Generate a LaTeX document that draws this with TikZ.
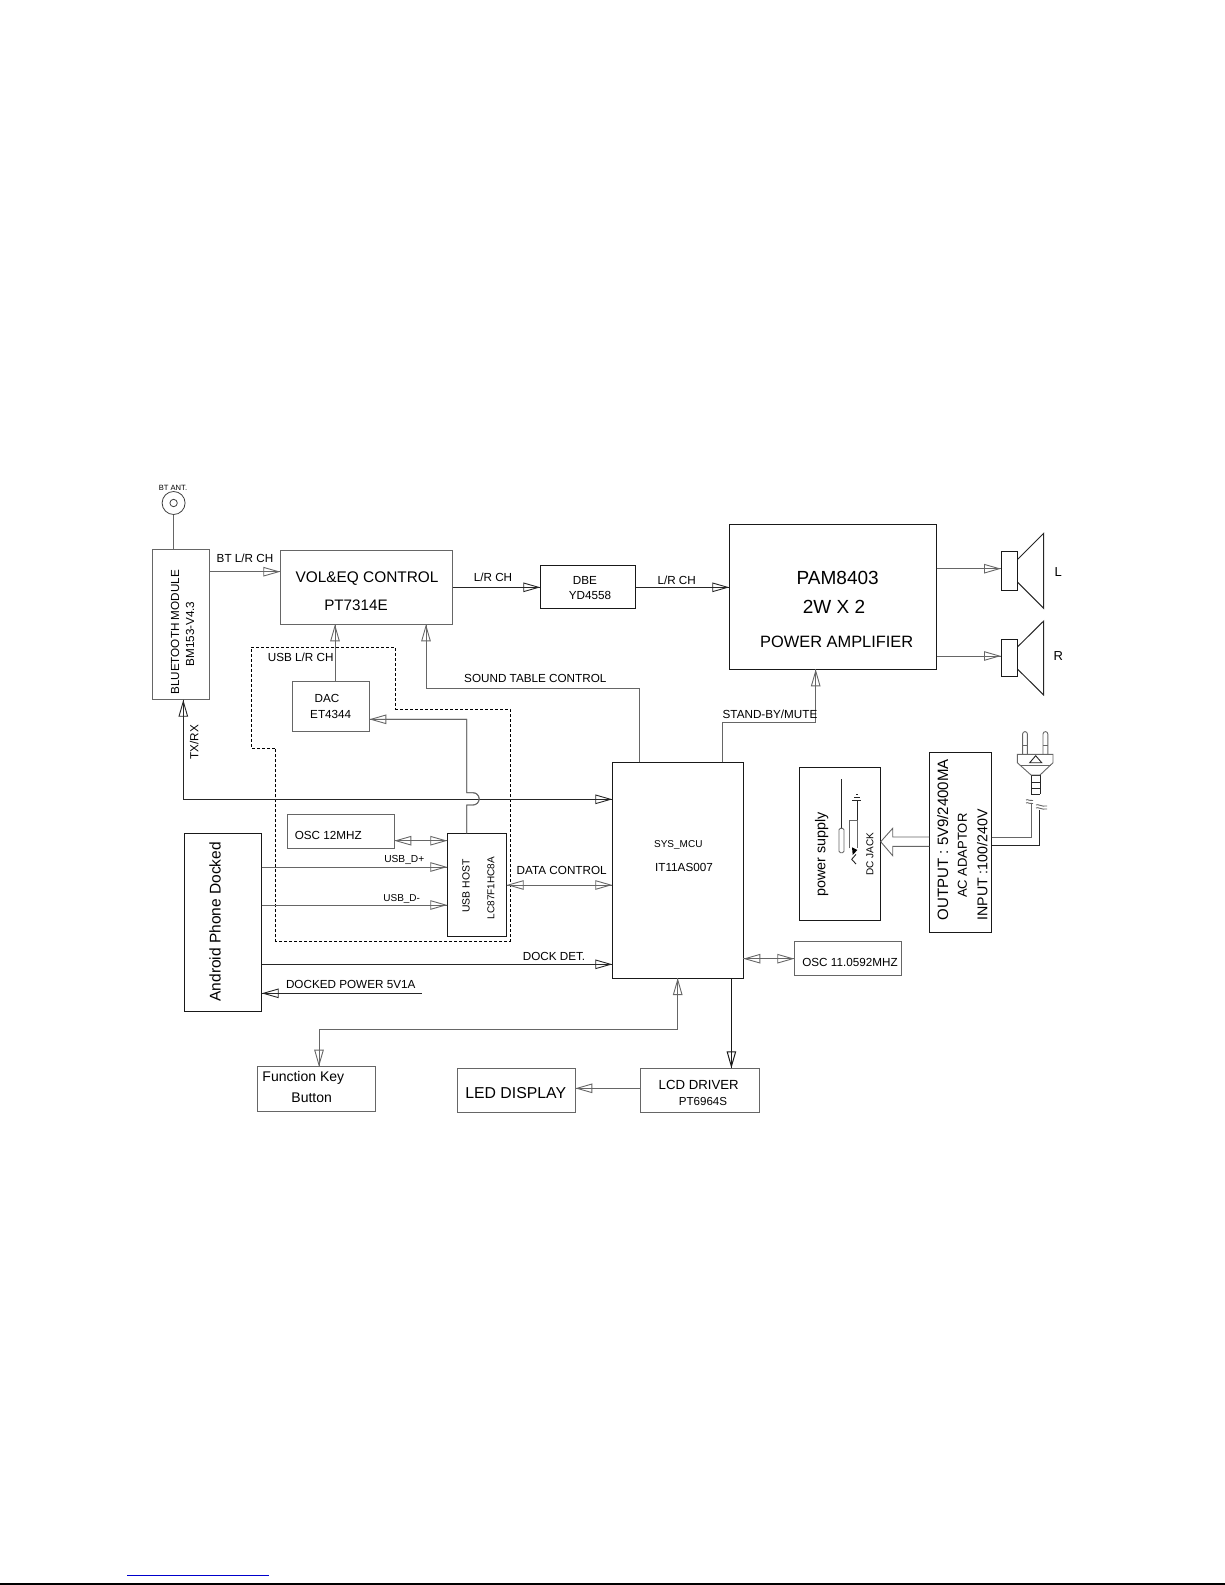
\documentclass[tikz,border=0pt]{standalone}
\usepackage{fontspec}
\setmainfont{Liberation Sans}
\usetikzlibrary{arrows.meta,calc}
\newcommand{\fsz}[1]{\fontsize{#1}{#1}\selectfont}
\tikzset{
    box/.style={draw=black!60, line width=1pt, inner sep=0pt, outer sep=0pt},
    darkbox/.style={box, draw=black!90},
    txt/.style={inner sep=0pt, text=black, font=\fsz{11.7}},
    vtxt/.style={txt, rotate=90},
    wire/.style={draw=black!60, line width=0.9pt},
    darkwire/.style={draw=black!85, line width=0.9pt},
    tip/.style={-{Triangle[open,length=17pt,width=9.5pt]}, postaction={draw,-}},
    dtip/.style={{Triangle[open,length=17pt,width=9.5pt]}-{Triangle[open,length=17pt,width=9.5pt]}, postaction={draw,-}},
}
\begin{document}
\begin{tikzpicture}[x=1pt,y=-1pt]
    \useasboundingbox (0,0) rectangle (1225,1585);

    % the blocks
    \node[box, minimum width=56.6pt, minimum height=150.7pt] (bt) at (181,624.35) {};
    \node[box, minimum width=172.4pt, minimum height=74pt] (vol) at (366.5,587.3) {};
    \node[box, minimum width=77pt, minimum height=50.3pt] (dac) at (330.8,706.15) {};
    \node[darkbox, minimum width=95.4pt, minimum height=43pt] (dbe) at (588,586.8) {};
    \node[darkbox, minimum width=207.4pt, minimum height=145pt] (pam) at (833,596.8) {};
    \node[darkbox, minimum width=131pt, minimum height=215.7pt] (mcu) at (677.8,870.15) {};
    \node[darkbox, minimum width=81.4pt, minimum height=153pt] (psu) at (840,843.8) {};
    \node[darkbox, minimum width=62.4pt, minimum height=180pt] (adp) at (960.5,842.3) {};
    \node[box, minimum width=107.4pt, minimum height=34pt] (oscb) at (848,958.7) {};
    \node[box, minimum width=107.3pt, minimum height=34.4pt] (osca) at (340.65,831.5) {};
    \node[darkbox, minimum width=59.4pt, minimum height=103pt] (host) at (477,884.8) {};
    \node[darkbox, minimum width=77.4pt, minimum height=177.7pt] (phone) at (223,922.15) {};
    \node[box, minimum width=118.4pt, minimum height=44.3pt] (key) at (316.5,1088.85) {};
    \node[box, minimum width=118.3pt, minimum height=44pt] (led) at (516.15,1090.3) {};
    \node[box, minimum width=118.5pt, minimum height=44pt] (lcd) at (699.75,1090.3) {};

    % the antenna
    \node[circle, draw=black!75, line width=0.8pt, inner sep=0pt, outer sep=0pt, minimum size=23pt] (ant) at (173.6,503) {};
    \node[circle, draw=black!75, line width=0.8pt, inner sep=0pt, minimum size=7.4pt] (anti) at (ant.center) {};
    \draw[wire] (ant.south) -- (ant.south |- bt.north);

    % the speakers
    \node[darkbox, minimum width=16.7pt, minimum height=39pt] (spkl) at (1009.35,571.2) {};
    \node[darkbox, minimum width=16.7pt, minimum height=37.4pt] (spkr) at (1009.35,658) {};
    \draw[darkwire, line width=1pt] (spkl.east |- 0,559.3) -- (1043.7,533.3) -- (1043.7,608.3) -- (spkl.east |- 0,582.3);
    \draw[darkwire, line width=1pt] (spkr.east |- 0,646.7) -- (1043.7,621) -- (1043.7,695) -- (spkr.east |- 0,669.3);

    % the dashed usb area
    \draw[black, line width=0.9pt, dash pattern=on 3pt off 2pt] (251.3,647.7) -- (395.7,647.7) -- (395.7,709) -- (510,709)
        -- (510,941) -- (275.7,941) -- (275.7,748) -- (251.3,748) -- cycle;

    % draw the arrows
    \draw[wire, tip] (bt.east |- 0,571.7) -- (vol.west |- 0,571.7);
    \draw[darkwire, tip] (vol.east |- 0,587.3) -- (dbe.west |- 0,587.3);
    \draw[darkwire, tip] (dbe.east |- 0,587.3) -- (pam.west |- 0,587.3);
    \draw[wire, tip] (pam.east |- 0,568.7) -- (spkl.west |- 0,568.7);
    \draw[wire, tip] (pam.east |- 0,656) -- (spkr.west |- 0,656);
    \draw[wire, tip] (dac.north -| 335,0) -- (vol.south -| 335,0);
    \draw[wire, tip] (639.7,0 |- mcu.north) -- (639.7,688) -- (426,688) -- (426,0 |- vol.south);
    \draw[wire, tip] (722.3,0 |- mcu.north) -- (722.3,722.3) -- (815.7,722.3) -- (815.7,0 |- pam.south);
    \draw[darkwire, dtip] (bt.south -| 183.3,0) -- (183.3,799.3) -- (mcu.west |- 0,799.3);
    \draw[wire, tip] (466.7,0 |- host.north) -- (466.7,805) -- (473,805) arc[start angle=-90, end angle=90, radius=6.15pt]
        -- (466.7,792.7) -- (466.7,719.3) -- (dac.east |- 0,719.3);
    \draw[wire, dtip] (osca.east |- 0,840.7) -- (host.west |- 0,840.7);
    \draw[wire, tip] (phone.east |- 0,867) -- (host.west |- 0,867);
    \draw[wire, tip] (phone.east |- 0,905) -- (host.west |- 0,905);
    \draw[wire, dtip] (host.east |- 0,885) -- (mcu.west |- 0,885);
    \draw[darkwire, tip] (phone.east |- 0,964.3) -- (mcu.west |- 0,964.3);
    \coordinate (pwrend) at (421.7,993.3);
    \draw[darkwire, tip] (pwrend) -- (phone.east |- pwrend);
    \draw[wire, dtip] (mcu.east |- oscb) -- (oscb.west);
    \draw[wire, dtip] (677.7,0 |- mcu.south) -- (677.7,1029.3) -- (319,1029.3) -- (319,0 |- key.north);
    \draw[black!90, line width=1pt, tip] (731.4,0 |- mcu.south) -- (731.4,0 |- lcd.north);
    \draw[wire, tip] (lcd.west |- 0,1088.3) -- (led.east |- 0,1088.3);

    % the hollow arrow into the power supply
    \draw[wire] (adp.west |- 0,837) -- (892.7,837) -- (892.7,828.3) -- (psu.east |- 0,841.7)
        -- (892.7,855.7) -- (892.7,846.3) -- (adp.west |- 0,846.3);

    % the dc jack
    \draw[darkwire] (841.3,779.3) -- (841.3,828.3);
    \draw[wire, rounded corners=1.5pt] (839,828.3) rectangle (844,852.7);
    \draw[wire] (849.7,848.3) -- (849.7,820) -- (857,820);
    \draw[wire] (857,820) -- (857,848.3);
    \draw[darkwire] (857,820) -- (857,800);
    \draw[darkwire] (852.3,800) -- (861.3,800) (854,797.3) -- (860,797.3) (856,794.3) -- (858,794.3);
    \fill[black] (852,847.3) -- (857.3,850) -- (852.7,855) -- cycle;
    \draw[darkwire] (856,864) -- (851.7,859.3) -- (856,854.3);

    % the mains plug
    \draw[wire] (adp.east |- 0,837.7) -- (1031,837.7) -- (1031,803.3);
    \draw[darkwire] (adp.east |- 0,845.7) -- (1039.7,845.7) -- (1039.7,810);
    \draw[wire] (1026,800) .. controls (1028,798.5) and (1030,802) .. (1033,800.5);
    \draw[wire] (1026,803) .. controls (1028,801.5) and (1030,805) .. (1033,803.5);
    \draw[wire] (1036,805) .. controls (1038,803.5) and (1041,807) .. (1047,806);
    \draw[wire] (1036,808) .. controls (1038,806.5) and (1041,810) .. (1047,809);
    \draw[darkwire] (1031,775) -- (1031,794) (1040,775) -- (1040,794);
    \draw[darkwire] (1031,775) -- (1040,775) (1031,782.3) -- (1040,782.3) (1031,788.3) -- (1040,788.3) (1031,794) -- (1040,794);
    \draw[wire] (1022.6,754.3) -- (1022.6,734) arc[start angle=180, end angle=0, radius=2.4pt] -- (1027.4,754.3);
    \draw[wire] (1043,754.3) -- (1043,734) arc[start angle=180, end angle=0, radius=2.4pt] -- (1047.8,754.3);
    \draw[wire] (1022.6,745.7) -- (1027.4,745.7) (1043,745.7) -- (1047.8,745.7);
    \draw[wire] (1017.3,754.3) -- (1053,754.3) -- (1053,762.7) -- (1040,775) -- (1031,775) -- (1017.3,762.7) -- cycle;
    \draw[wire] (1019.5,765) -- (1050.8,765);
    \draw[darkwire] (1029.7,762.7) -- (1035.7,755.7) -- (1041.7,762.7) -- cycle;

    % the texts
    \node[txt, font=\fsz{7.6}] (anttxt) at (173,488) {BT ANT.};
    \node[vtxt] (bttxta) at (175,632.3) {BLUETOOTH MODULE};
    \node[vtxt] (bttxtb) at (190,634) {BM153-V4.3};
    \node[txt] (btlr) at (245,558) {BT L/R CH};
    \node[txt, font=\fsz{15.4}] (voltxta) at (367,578.5) {VOL\&EQ CONTROL};
    \node[txt, font=\fsz{15.2}] (voltxtb) at (356,605) {PT7314E};
    \node[txt] (lrch) at (493,577) {L/R CH};
    \node[txt] (dbetxta) at (585,580) {DBE};
    \node[txt] (dbetxtb) at (590,595.7) {YD4558};
    \node[txt] (lrchb) at (676.7,580.3) {L/R CH};
    \node[txt, font=\fsz{19}] (pamtxta) at (837.7,578) {PAM8403};
    \node[txt, font=\fsz{19}] (pamtxtb) at (834,606.7) {2W X 2};
    \node[txt, font=\fsz{16.4}] (pamtxtc) at (836.7,642) {POWER AMPLIFIER};
    \node[txt, font=\fsz{13}] (ltxt) at (1058.3,572.3) {L};
    \node[txt, font=\fsz{13}] (rtxt) at (1058.3,655.7) {R};
    \node[txt] (usblr) at (300.7,657) {USB L/R CH};
    \node[txt] (dactxta) at (327,698) {DAC};
    \node[txt] (dactxtb) at (330.7,714) {ET4344};
    \node[txt] (sound) at (535.3,678.3) {SOUND TABLE CONTROL};
    \node[txt] (standby) at (770,714) {STAND-BY/MUTE};
    \node[vtxt] (txrx) at (194.3,742) {TX/RX};
    \node[txt] (oscatxt) at (328.3,835.7) {OSC 12MHZ};
    \node[txt, font=\fsz{10.2}] (dplus) at (404.3,860) {USB\_D+};
    \node[txt, font=\fsz{10}] (dminus) at (401.7,898.7) {USB\_D-};
    \node[vtxt, font=\fsz{10.4}] (hosttxta) at (466,886) {USB HOST};
    \node[vtxt, font=\fsz{10}] (hosttxtb) at (491,888) {LC87F1HC8A};
    \node[txt] (datactl) at (561.7,870) {DATA CONTROL};
    \node[txt] (dockdet) at (554,956.3) {DOCK DET.};
    \node[txt] (dockpwr) at (350.7,984.3) {DOCKED POWER 5V1A};
    \node[vtxt, font=\fsz{15.5}] (phonetxt) at (215,921.7) {Android Phone Docked};
    \node[txt, font=\fsz{10}] (mcutxta) at (678.3,845) {SYS\_MCU};
    \node[txt] (mcutxtb) at (684,867.7) {IT11AS007};
    \node[vtxt, font=\fsz{14.3}] (psutxt) at (821.7,854.3) {power supply};
    \node[vtxt, font=\fsz{10}] (jacktxt) at (870,854.3) {DC JACK};
    \node[vtxt, font=\fsz{15}] (adptxta) at (942.7,839.7) {OUTPUT : 5V9/2400MA};
    \node[vtxt, font=\fsz{13}] (adptxtb) at (962.3,855.7) {AC ADAPTOR};
    \node[vtxt, font=\fsz{14.2}] (adptxtc) at (982.3,865) {INPUT :100/240V};
    \node[txt] (oscbtxt) at (850,962) {OSC 11.0592MHZ};
    \node[txt, font=\fsz{14}] (keytxta) at (303.3,1077.7) {Function Key};
    \node[txt, font=\fsz{14}] (keytxtb) at (311.7,1097.3) {Button};
    \node[txt, font=\fsz{15.8}] (ledtxt) at (515.7,1092.7) {LED DISPLAY};
    \node[txt, font=\fsz{13.2}] (lcdtxta) at (698.7,1085) {LCD DRIVER};
    \node[txt, font=\fsz{11.6}] (lcdtxtb) at (703,1101.5) {PT6964S};

    % the page rules
    \draw[blue!80!black, line width=1pt] (127,1575.3) -- (269,1575.3);
    \draw[black, line width=1.5pt] (0,1584.2) -- (1225,1584.2);
\end{tikzpicture}
\end{document}
